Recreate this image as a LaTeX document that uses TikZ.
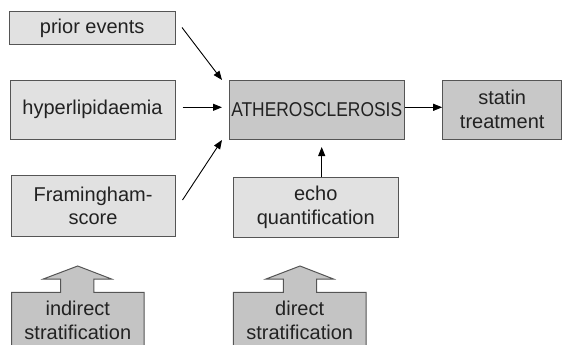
\documentclass[tikz,border=0pt]{standalone}
\usepackage{fontspec}
\setmainfont{Liberation Sans}
\usetikzlibrary{arrows.meta}
\definecolor{lightbox}{HTML}{E1E1E1}
\definecolor{darkbox}{HTML}{C8C8C8}
\definecolor{blockfill}{HTML}{C4C4C4}
\definecolor{edge}{HTML}{555555}
\definecolor{txt}{HTML}{222222}
\tikzset{
  box/.style={draw=edge, line width=1pt, fill=lightbox, inner sep=0pt, align=center,
    font=\fontsize{20}{23.5}\selectfont, text=txt},
  darkb/.style={box, fill=darkbox},
  conn/.style={line width=0.9pt, -{Triangle[length=9pt,width=7pt]}},
  blockarrow/.style={draw=edge, line width=1pt, fill=blockfill},
  blocktext/.style={inner sep=0pt, align=center, font=\fontsize{20}{23.5}\selectfont, text=txt}
}
\begin{document}
\begin{tikzpicture}[x=1pt,y=-1pt]
\useasboundingbox (0,0) rectangle (562,345);
\clip (0,0) rectangle (562,345);
% boxes
\node[box, minimum width=165.7pt, minimum height=33.3pt] (prior) at (92.2,28.3) {prior events};
\node[box, minimum width=165pt, minimum height=59pt] (hyper) at (92.5,109.5) {hyperlipidaemia};
\node[box, minimum width=164pt, minimum height=60.3pt] (fram) at (93,206) {Framingham-\\score};
\node[darkb, minimum width=174.7pt, minimum height=59pt] (ath) at (316.7,109.5) {\scalebox{0.87}[1]{ATHEROSCLEROSIS}};
\node[darkb, minimum width=119pt, minimum height=59pt] (statin) at (502.2,109.5) {statin\\treatment};
\node[box, minimum width=165pt, minimum height=60pt] (echo) at (315.8,207.3) {echo\\quantification};
% block arrows
\coordinate (ia) at (77.7,266);
\draw[blockarrow] (11.7,348) -- (11.7,292.3) -- (60.7,292.3) -- (60.7,279) -- (43.3,279) -- (ia)
  -- (111.5,279) -- (93.8,279) -- (93.8,292.3) -- (144,292.3) -- (144,348) -- cycle;
\node[blocktext] (indirect) at (77.8,320.5) {indirect\\stratification};
\coordinate (da) at (300,266);
\draw[blockarrow] (233.3,348) -- (233.3,292.3) -- (283.3,292.3) -- (283.3,279) -- (266,279) -- (da)
  -- (333.5,279) -- (316.7,279) -- (316.7,292.3) -- (366,292.3) -- (366,348) -- cycle;
\node[blocktext] (direct) at (299.7,320.5) {direct\\stratification};
% connectors
\coordinate (p1) at (182,27.5);
\coordinate (p2) at (222,80);
\draw[conn] (p1) -- (p2);
\coordinate (h1) at (182.5,107.3);
\coordinate (h2) at (222,107.3);
\draw[conn] (h1) -- (h2);
\coordinate (f1) at (182.5,200);
\coordinate (f2) at (222,140);
\draw[conn] (f1) -- (f2);
\draw[conn] (ath.east |- 0,107.3) -- (statin.west |- 0,107.3);
\draw[conn] (321.7,177.3) -- (321.7,147);
\end{tikzpicture}
\end{document}
